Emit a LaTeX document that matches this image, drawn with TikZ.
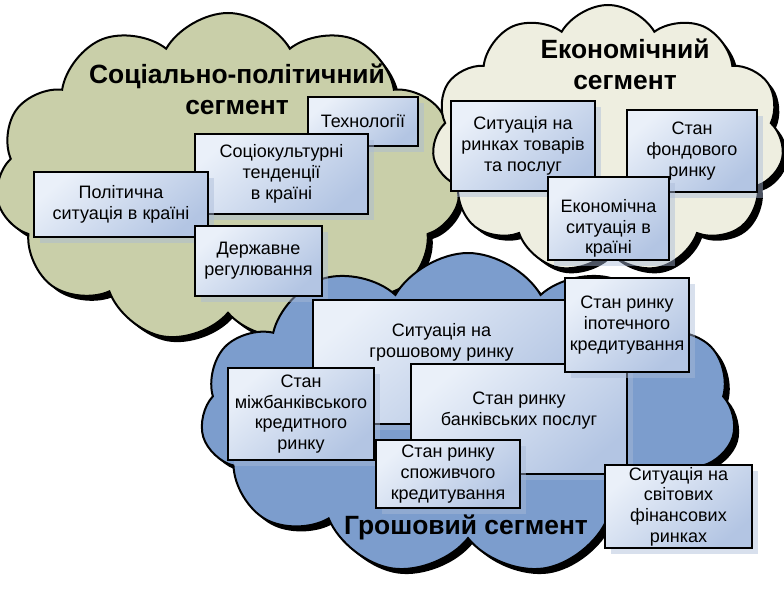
\documentclass[tikz,border=0pt]{standalone}
\usepackage{fontspec}
\setmainfont{Liberation Sans}
\usetikzlibrary{shapes.symbols,shadows}
\definecolor{socfill}{HTML}{C9CFA9}
\definecolor{econfill}{HTML}{EEEEE0}
\definecolor{grosfill}{HTML}{7C9DCD}
\definecolor{boxlight}{HTML}{EAF0F9}
\definecolor{boxdark}{HTML}{B3C5E3}
\definecolor{boxshade}{HTML}{A9BAD8}

\begin{document}
\begin{tikzpicture}[x=1pt,y=-1pt,
  segment/.style={cloud,draw=black,line width=2pt,cloud puffs=11,cloud puff arc=120,
    drop shadow={shadow xshift=5pt,shadow yshift=-5pt,fill=black,opacity=1}},
  segname/.style={font=\fontsize{26.4}{31}\selectfont\bfseries,align=center},
  factor/.style={rectangle,draw=black,line width=2.5pt,inner sep=0pt,align=center,
    top color=boxlight,bottom color=boxdark,shading angle=40,
    font=\fontsize{18}{20.7}\selectfont,
    drop shadow={shadow xshift=6pt,shadow yshift=-6pt,fill=boxshade,opacity=0.45}}]
  \useasboundingbox (0,0) rectangle (784,593);
  \node [segment,fill=socfill,aspect=1.4,minimum width=465pt,minimum height=330pt] (soc) at (228,178) {};
  \node [segment,fill=econfill,aspect=1.33,minimum width=352pt,minimum height=268pt] (econ) at (608,139) {};
  \node [segment,fill=grosfill,aspect=1.62,minimum width=535pt,minimum height=322pt] (gros) at (468,414) {};
  \node [segname] (soctitle) at (237,89) {Соціально-політичний\\сегмент};
  \node [segname] (econtitle) at (625,64) {Економічний\\сегмент};
  \node [segname,anchor=base] (grostitle) at (466,534) {Грошовий сегмент};
  \node [factor,minimum width=110pt,minimum height=49pt] (tech) at (363,121.5) {Технології};
  \node [factor,minimum width=173pt,minimum height=80pt] (socio) at (281.5,174) {Соціокультурні\\тенденції\\в країні};
  \node [factor,minimum width=174pt,minimum height=65pt] (polit) at (121,204.5) {Політична\\ситуація в країні};
  \node [factor,minimum width=127pt,minimum height=70pt] (derzh) at (258.5,261) {Державне\\регулювання};
  \node [factor,minimum width=144pt,minimum height=90pt] (tovar) at (523,146) {Ситуація на\\ринках товарів\\та послуг};
  \node [factor,minimum width=130pt,minimum height=82pt] (fond) at (692,151) {Стан\\фондового\\ринку};
  \node [factor,minimum width=121pt,minimum height=83pt,text height=75pt,text depth=4pt] (ekon) at (608.5,218.5) {Економічна\\ситуація в\\країні};
  \node [factor,minimum width=257pt,minimum height=124pt,text height=30pt,text depth=40pt] (hros) at (441.5,362) {Ситуація на\\грошовому ринку};
  \node [factor,minimum width=216pt,minimum height=110pt,text height=40pt,text depth=28pt] (bank) at (519,419) {Стан ринку\\банківських послуг};
  \node [factor,minimum width=124pt,minimum height=94pt] (ipot) at (627,325) {Стан ринку\\іпотечного\\кредитування};
  \node [factor,minimum width=146pt,minimum height=92pt] (mizh) at (301,414) {Стан\\міжбанківського\\кредитного\\ринку};
  \node [factor,minimum width=144pt,minimum height=68pt] (spozh) at (448,474) {Стан ринку\\споживчого\\кредитування};
  \node [factor,minimum width=147pt,minimum height=83pt] (svit) at (678.5,506.5) {Ситуація на\\світових\\фінансових\\ринках};
\end{tikzpicture}
\end{document}
